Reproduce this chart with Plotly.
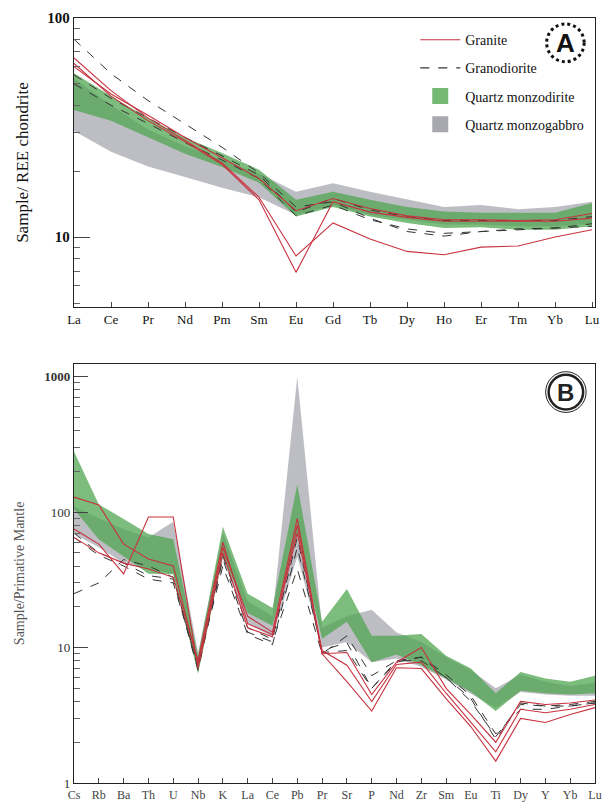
import plotly.graph_objects as go

# ---------------- Panel A data (REE / chondrite) ----------------
REE = ["La", "Ce", "Pr", "Nd", "Pm", "Sm", "Eu", "Gd", "Tb", "Dy", "Ho", "Er", "Tm", "Yb", "Lu"]

qmd_A_top = [56, 44, 35, 28.5, 24.2, 20.3, 14.8, 16.1, 14.8, 13.7, 13.1, 12.9, 12.9, 12.9, 14.3]
qmd_A_bot = [38, 34, 28.5, 24, 20.9, 17.7, 12.4, 13.7, 12.4, 11.6, 11.0, 11.1, 10.8, 10.8, 11.2]

qmg_A_top = [53, 40, 31, 26, 22.5, 19.5, 16.1, 17.6, 16.1, 14.8, 13.7, 14.0, 13.4, 13.7, 14.5]
qmg_A_bot = [30.5, 24.5, 21, 18.8, 16.8, 15.2, 12.6, 14, 12.6, 12, 11.4, 11.4, 11.2, 11.2, 11.5]

granite_A = [
    [65.7, 46.6, 35, 27.7, 21.8, 15.2, 8.2, 11.6, 9.8, 8.6, 8.3, 9.0, 9.1, 10.0, 10.8],
    [62, 44, 34, 27.2, 21.5, 14.8, 6.9, 14.5, 13, 12.3, 11.8, 11.8, 11.8, 11.8, 12.2],
    [60, 45, 36, 28.5, 23, 18.5, 13.2, 15, 13.5, 12.5, 12, 12, 11.9, 12, 12.8],
]
granodiorite_A = [
    [80, 55.7, 42, 33, 25.7, 19.6, 13.7, 14.5, 12.2, 10.6, 10.1, 10.6, 10.9, 11.0, 11.5],
    [55, 43, 35, 28.5, 23.5, 19.2, 13, 15, 13.3, 12.4, 11.9, 11.9, 11.9, 11.9, 12.4],
    [50, 40, 33, 27, 22.5, 18.5, 12.5, 14, 12, 10.9, 10.4, 10.6, 10.8, 11, 11.2],
]

# ---------------- Panel B data (trace elements / primitive mantle) ----------------
TE = ["Cs", "Rb", "Ba", "Th", "U", "Nb", "K", "La", "Ce", "Pb", "Pr", "Sr", "P", "Nd",
      "Zr", "Sm", "Eu", "Ti", "Dy", "Y", "Yb", "Lu"]

qmd_B_top = [280, 114, 89, 69, 63, 8.7, 78, 25, 19.6, 160, 15.5, 27, 12.2, 12.2, 12.6, 8.7, 7.0, 4.6, 6.6, 5.9, 5.6, 6.2]
qmd_B_bot = [105, 63, 47, 35, 34.7, 6.4, 47, 18, 14.5, 69, 11.6, 15.5, 7.8, 8.9, 7.4, 5.9, 4.7, 3.4, 4.8, 4.6, 4.5, 4.6]

qmg_B_top = [110, 90, 75, 65, 85, 9.2, 70, 22, 17, 1000, 14, 17, 19, 12.9, 11, 8.5, 6.8, 5.0, 6.3, 5.6, 5.2, 5.5]
qmg_B_bot = [69, 55, 42, 38, 35, 7, 45, 15, 12, 47, 10, 11, 7.8, 8.3, 7.2, 5.8, 4.6, 3.6, 4.7, 4.5, 4.4, 4.4]

granite_B = [
    [129, 113, 58, 45, 40, 7.5, 55, 17, 13, 90, 9, 9.2, 4.5, 7.8, 10, 5.0, 3.2, 2.0, 4.0, 3.8, 3.9, 4.1],
    [75, 58, 35, 92, 92, 7, 50, 14, 12, 80, 9, 5.6, 3.4, 7.1, 7.0, 4.2, 2.6, 1.45, 3.0, 2.8, 3.2, 3.6],
    [65, 50, 42, 38, 33, 8, 60, 15, 12.5, 70, 9.5, 7.4, 4.0, 7.5, 7.8, 4.6, 2.8, 1.7, 3.5, 3.3, 3.5, 3.8],
]
granodiorite_B = [
    [25, 30, 44.6, 40, 33, 7, 45, 13, 11, 38, 9, 12.2, 6.2, 8, 8, 6, 4, 2.2, 3.8, 3.7, 3.8, 4.0],
    [65, 48, 40, 32, 30, 7.5, 40, 12.5, 10.5, 55, 9.5, 10.9, 5.0, 8, 8.5, 6.3, 4.4, 2.3, 3.5, 3.5, 3.7, 3.9],
    [70, 50, 42, 34, 32, 6.8, 48, 14, 11.5, 65, 9.2, 9.5, 5.0, 7.8, 8.5, 6, 4.2, 2.1, 3.9, 3.7, 3.7, 3.9],
]

# ---------------- styles ----------------
RED = "#c8323f"
DARK = "#333333"
GREEN = "rgba(80,165,80,0.75)"
GREY = "rgba(158,158,168,0.68)"
GREEN_KEY = "#74b874"
GREY_KEY = "#a8a8b0"
SERIF = "Liberation Serif, Times New Roman, serif"

fig = go.Figure()


def band(cats, top, bot, color, name, xa, ya):
    fig.add_trace(go.Scatter(
        x=list(cats) + list(cats)[::-1], y=list(top) + list(bot)[::-1],
        fill="toself", fillcolor=color, mode="lines", line=dict(width=0, color=color),
        name=name, showlegend=False, xaxis=xa, yaxis=ya, hoverinfo="skip"))


def lines(cats, series, color, dash, name, xa, ya, width=1.1):
    for s in series:
        fig.add_trace(go.Scatter(
            x=cats, y=s, mode="lines", line=dict(color=color, width=width, dash=dash),
            name=name, showlegend=False, xaxis=xa, yaxis=ya))


# Panel A
band(REE, qmg_A_top, qmg_A_bot, GREY, "Quartz monzogabbro", "x", "y")
band(REE, qmd_A_top, qmd_A_bot, GREEN, "Quartz monzodirite", "x", "y")
lines(REE, granodiorite_A, DARK, "dash", "Granodiorite", "x", "y", 1.0)
lines(REE, granite_A, RED, "solid", "Granite", "x", "y")

# Panel B
band(TE, qmg_B_top, qmg_B_bot, GREY, "Quartz monzogabbro", "x2", "y2")
band(TE, qmd_B_top, qmd_B_bot, GREEN, "Quartz monzodirite", "x2", "y2")
lines(TE, granodiorite_B, DARK, "dash", "Granodiorite", "x2", "y2", 1.0)
lines(TE, granite_B, RED, "solid", "Granite", "x2", "y2")

# legend entries (panel A order)
for nm, kind, col in [("Granite", "line", RED), ("Granodiorite", "dash", DARK),
                      ("Quartz monzodirite", "fill", GREEN_KEY), ("Quartz monzogabbro", "fill", GREY_KEY)]:
    if kind == "fill":
        fig.add_trace(go.Scatter(x=[None], y=[None], mode="markers",
                                 marker=dict(symbol="square", size=22, color=col),
                                 name=nm, legendgroup=nm, xaxis="x", yaxis="y"))
    else:
        fig.add_trace(go.Scatter(x=[None], y=[None], mode="lines",
                                 line=dict(color=col, width=1.1, dash="dash" if kind == "dash" else "solid"),
                                 name=nm, legendgroup=nm, xaxis="x", yaxis="y"))

axis_common = dict(showline=True, linecolor="#222", linewidth=1.3, mirror=True,
                   ticks="inside", tickcolor="#444", showgrid=False, zeroline=False,
                   tickfont=dict(family=SERIF, size=13, color="#111"))

fig.update_layout(
    width=612, height=812,
    margin=dict(l=74, r=10, t=17, b=25),
    paper_bgcolor="white", plot_bgcolor="white",
    showlegend=True,
    legend=dict(x=0.655, y=0.992, xanchor="left", yanchor="top",
                bgcolor="rgba(0,0,0,0)", font=dict(family=SERIF, size=14, color="#111"),
                itemwidth=40, tracegroupgap=7),
    xaxis=dict(axis_common, domain=[0, 1], anchor="y", type="category",
               range=[0, 14.08], ticklen=5),
    yaxis=dict(axis_common, domain=[0.622, 1], anchor="x", type="log",
               range=[0.68, 2.0], tickvals=[10, 100], ticktext=["<b>10</b>", "<b>100</b>"],
               ticklen=16, tickwidth=1.3, tickfont=dict(family=SERIF, size=15, color="#111"),
               minor=dict(ticks="inside", ticklen=6, tickcolor="#666",
                          tickvals=[5, 6, 7, 8, 9, 20, 30, 40, 50, 60, 70, 80, 90]),
               title=dict(text="Sample/ REE chondrite", standoff=14,
                          font=dict(family=SERIF, size=17, color="#111"))),
    xaxis2=dict(axis_common, domain=[0, 1], anchor="y2", type="category",
                range=[0, 21], ticklen=5,
                tickfont=dict(family=SERIF, size=12, color="#444")),
    yaxis2=dict(axis_common, domain=[0, 0.548], anchor="x2", type="log",
                range=[0, 3.095], tickvals=[1, 10, 100, 1000],
                ticktext=["1", "10", "100", "<b>1000</b>"],
                ticklen=14, tickwidth=1.3, tickfont=dict(family=SERIF, size=13, color="#333"),
                minor=dict(ticks="inside", ticklen=6, tickcolor="#666",
                           tickvals=[2, 3, 4, 5, 6, 7, 8, 9, 20, 30, 40, 50, 60, 70, 80, 90,
                                     200, 300, 400, 500, 600, 700, 800, 900]),
                title=dict(text="Sample/Primative Mantle", standoff=16,
                           font=dict(family=SERIF, size=14, color="#555"))),
)

# panel labels (circled letters)
W, H = 528.0, 770.0


def px(xp):
    return (xp - 74) / W


def py(yp):
    return 1 - (yp - 17) / H


fig.add_shape(type="circle", xref="paper", yref="paper",
              x0=px(553), x1=px(591), y0=py(61), y1=py(23),
              line=dict(color="#111", width=3, dash="dot"))
fig.add_annotation(xref="paper", yref="paper", x=px(572), y=py(42), text="<b>A</b>",
                   xanchor="center", yanchor="middle",
                   showarrow=False, font=dict(family="Liberation Sans, Arial", size=26, color="#111"))
fig.add_shape(type="circle", xref="paper", yref="paper",
              x0=px(552), x1=px(593), y0=py(414), y1=py(373),
              line=dict(color="#222", width=1))
fig.add_shape(type="circle", xref="paper", yref="paper",
              x0=px(555), x1=px(590), y0=py(411), y1=py(376),
              line=dict(color="#222", width=2.5))
fig.add_annotation(xref="paper", yref="paper", x=px(572.5), y=py(393.5), text="<b>B</b>",
                   xanchor="center", yanchor="middle",
                   showarrow=False, font=dict(family="Liberation Sans, Arial", size=24, color="#222"))

fig.write_html("out.html")
